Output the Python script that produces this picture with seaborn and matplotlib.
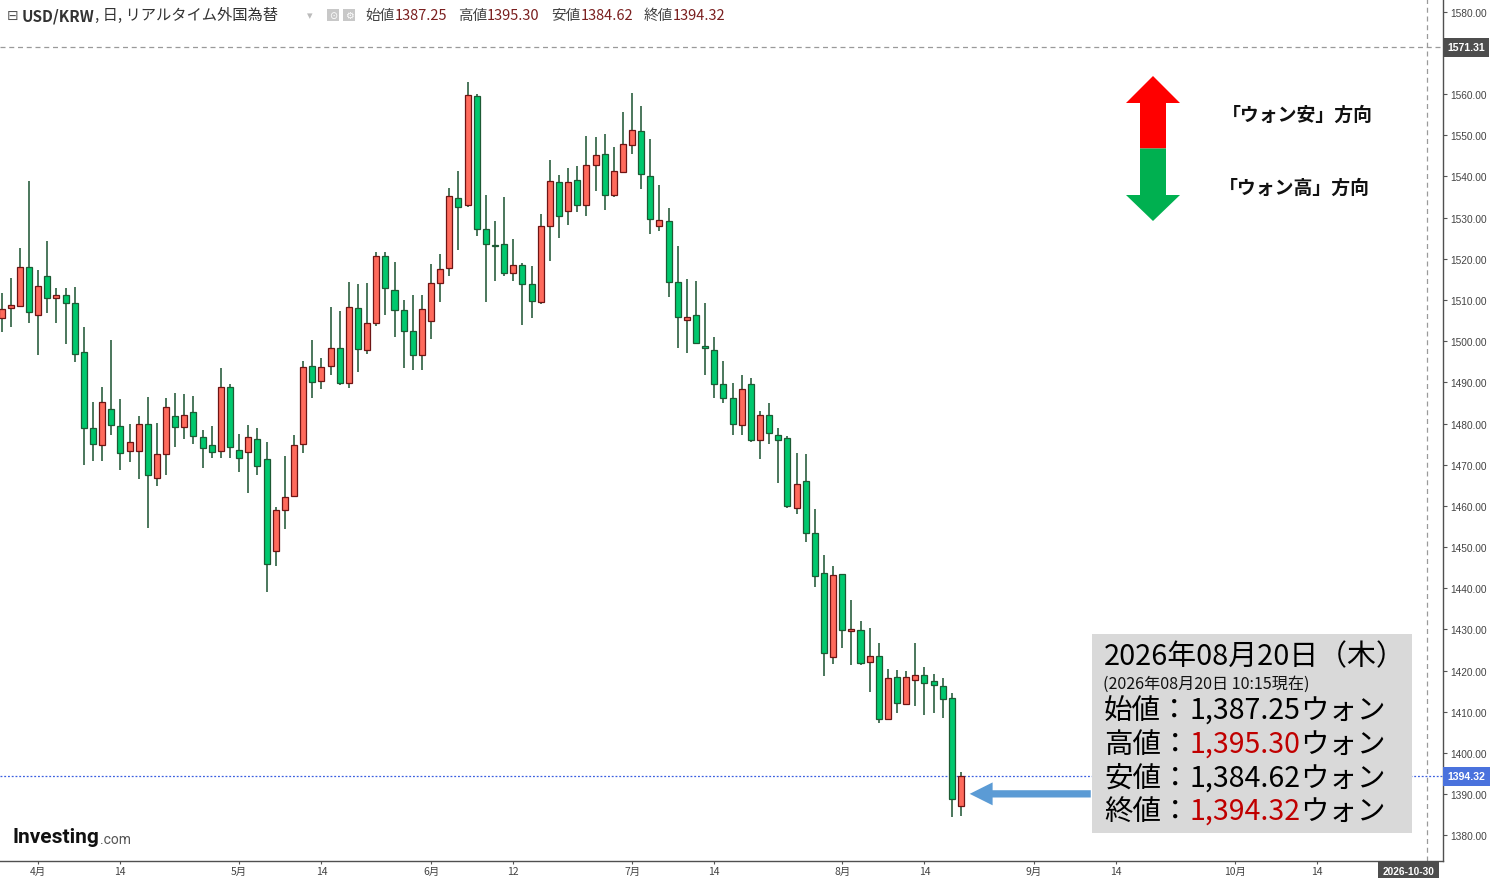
import numpy as np
import pandas as pd
import matplotlib
matplotlib.use('Agg')
import matplotlib.pyplot as plt
from matplotlib.patches import Polygon, Rectangle
import seaborn as sns

# USD/KRW daily candles, 2026-03-26 .. 2026-08-20 (weekdays)
opens = [1505.6, 1508.0, 1508.5, 1517.9, 1506.4, 1515.7, 1510.4, 1511.1, 1509.2, 1497.3,
         1478.9, 1474.7, 1483.5, 1479.3, 1473.3, 1473.3, 1479.8, 1466.7, 1472.5, 1481.8,
         1479.1, 1482.7, 1476.7, 1474.7, 1473.3, 1488.8, 1473.5, 1473.0, 1476.2, 1471.3,
         1449.0, 1459.0, 1462.3, 1475.0, 1493.9, 1490.3, 1493.9, 1498.3, 1489.8, 1508.0,
         1497.8, 1504.3, 1520.6, 1512.3, 1507.5, 1502.4, 1496.6, 1504.8, 1514.0, 1517.7,
         1534.7, 1533.0, 1559.4, 1527.2, 1523.3, 1523.5, 1516.5, 1518.4, 1513.8, 1509.4,
         1527.9, 1538.6, 1531.5, 1539.0, 1533.0, 1542.7, 1545.4, 1535.4, 1541.0, 1547.5,
         1550.9, 1540.0, 1527.9, 1529.1, 1514.3, 1505.1, 1506.3, 1498.8, 1497.8, 1489.5,
         1486.1, 1479.7, 1489.5, 1475.9, 1482.0, 1477.3, 1476.4, 1459.4, 1466.0, 1453.4,
         1443.7, 1423.3, 1443.4, 1429.6, 1429.8, 1422.1, 1423.5, 1408.2, 1418.4, 1411.9,
         1417.7, 1418.9, 1417.5, 1416.2, 1413.3, 1387.25]
highs = [1511.7, 1515.3, 1522.6, 1538.9, 1517.3, 1524.3, 1512.9, 1512.9, 1513.2, 1503.5,
         1485.3, 1488.9, 1500.3, 1486.0, 1479.8, 1481.8, 1486.5, 1480.2, 1486.2, 1487.4,
         1487.2, 1486.7, 1478.5, 1479.4, 1493.5, 1489.6, 1477.4, 1479.6, 1478.9, 1475.5,
         1459.7, 1472.1, 1477.2, 1495.1, 1500.2, 1495.9, 1508.2, 1507.3, 1514.3, 1513.8,
         1514.1, 1521.6, 1521.6, 1519.2, 1510.0, 1511.2, 1511.2, 1518.7, 1521.1, 1537.1,
         1541.2, 1562.8, 1559.9, 1535.4, 1529.1, 1534.9, 1524.7, 1518.9, 1518.2, 1530.8,
         1544.0, 1540.3, 1542.0, 1542.5, 1549.8, 1549.6, 1550.3, 1547.1, 1555.6, 1560.2,
         1557.1, 1549.1, 1537.9, 1532.3, 1523.0, 1515.0, 1514.5, 1509.3, 1500.9, 1495.1,
         1489.8, 1491.7, 1491.0, 1483.1, 1485.0, 1478.9, 1476.9, 1472.9, 1472.6, 1459.3,
         1448.1, 1445.4, 1443.4, 1437.2, 1432.1, 1430.4, 1426.8, 1420.4, 1420.1, 1419.9,
         1426.7, 1420.8, 1419.2, 1418.2, 1414.5, 1395.30]
lows = [1502.1, 1503.5, 1508.3, 1504.3, 1496.7, 1506.9, 1504.3, 1499.2, 1495.0, 1470.0,
        1471.0, 1471.0, 1477.1, 1468.8, 1470.6, 1466.6, 1454.7, 1464.9, 1467.6, 1474.4,
        1476.3, 1475.1, 1469.3, 1471.7, 1471.7, 1471.7, 1468.3, 1463.2, 1467.4, 1439.2,
        1445.3, 1454.3, 1462.1, 1472.8, 1486.3, 1488.5, 1491.9, 1489.3, 1488.6, 1492.4,
        1497.0, 1503.6, 1506.4, 1500.9, 1493.6, 1493.1, 1492.9, 1500.6, 1509.4, 1515.7,
        1522.2, 1532.5, 1525.6, 1509.6, 1514.5, 1515.7, 1514.7, 1504.0, 1505.7, 1508.9,
        1519.5, 1525.1, 1528.3, 1531.4, 1530.5, 1536.5, 1531.9, 1535.1, 1540.8, 1545.5,
        1537.0, 1526.1, 1526.8, 1510.6, 1498.4, 1497.2, 1499.2, 1491.9, 1486.3, 1485.1,
        1477.3, 1477.1, 1475.6, 1471.5, 1475.1, 1465.6, 1459.4, 1458.1, 1451.3, 1440.2,
        1418.8, 1421.7, 1425.6, 1421.3, 1421.3, 1414.9, 1407.3, 1408.0, 1409.7, 1411.6,
        1411.4, 1409.2, 1409.7, 1408.5, 1384.5, 1384.62]
closes = [1507.7, 1508.7, 1517.9, 1507.0, 1513.3, 1510.4, 1511.1, 1509.2, 1496.8, 1478.9,
          1475.0, 1485.2, 1479.6, 1472.8, 1475.5, 1479.8, 1467.4, 1472.5, 1484.0, 1479.1,
          1482.0, 1476.9, 1474.0, 1473.0, 1488.8, 1474.2, 1471.6, 1476.7, 1469.6, 1445.9,
          1459.0, 1462.1, 1474.7, 1493.7, 1490.0, 1493.7, 1498.3, 1489.8, 1508.2, 1498.0,
          1504.3, 1520.6, 1512.8, 1507.5, 1502.4, 1496.6, 1507.7, 1514.0, 1517.4, 1535.2,
          1532.5, 1559.7, 1527.2, 1523.5, 1523.2, 1516.5, 1518.4, 1513.8, 1509.7, 1527.9,
          1538.8, 1530.5, 1538.6, 1533.0, 1542.7, 1545.1, 1535.4, 1541.2, 1547.8, 1551.2,
          1540.5, 1529.6, 1529.3, 1514.3, 1505.8, 1505.8, 1499.5, 1498.3, 1489.5, 1486.1,
          1480.0, 1488.3, 1476.1, 1482.0, 1477.6, 1475.9, 1459.9, 1465.3, 1453.4, 1442.9,
          1424.2, 1443.2, 1429.8, 1430.1, 1421.8, 1423.5, 1408.2, 1418.2, 1412.1, 1418.4,
          1418.9, 1417.0, 1416.5, 1413.1, 1388.8, 1394.32]

tick_dates = ['2026-04-01', '2026-04-14', '2026-05-01', '2026-05-14', '2026-06-01', '2026-06-12',
              '2026-07-01', '2026-07-14', '2026-08-03', '2026-08-14', '2026-09-01', '2026-09-14',
              '2026-10-01', '2026-10-14']
tick_labels = ['4月', '14', '5月', '14', '6月', '12', '7月', '14', '8月', '14', '9月', '14', '10月', '14']
# 1570 sits under the 1571.31 marker, so it is left out
price_ticks = [1380, 1390, 1400, 1410, 1420, 1430, 1440, 1450, 1460, 1470, 1480,
               1490, 1500, 1510, 1520, 1530, 1540, 1550, 1560, 1580]

last_date = '2026-08-20'
last_close = 1394.32
max_line = 1571.31
end_date = '2026-10-30'

# colours
up_fill, up_edge = '#ff6a5c', '#6e1414'
dn_fill, dn_edge = '#00c86e', '#1d5a34'
wick_col = '#1a5230'

sns.set_theme(style='white')
plt.rcParams['font.family'] = ['Noto Sans CJK JP', 'DejaVu Sans']

W, H = 1490, 879
fig = plt.figure(figsize=(W / 100, H / 100), dpi=100)
ax = fig.add_axes([0, 17 / H, 1443 / W, 862 / H])

o = np.array(opens); h = np.array(highs); l = np.array(lows); c = np.array(closes)
axis_days = pd.bdate_range('2026-03-26', end_date)
x = np.arange(len(o))
up = c >= o
body_lo = np.minimum(o, c)
body_h = np.maximum(np.abs(c - o), 0.12)

ax.vlines(x, l, h, color=wick_col, lw=1.1, zorder=2)
ax.bar(x[up], body_h[up], bottom=body_lo[up], width=0.66, color=up_fill,
       edgecolor=up_edge, linewidth=0.9, zorder=3)
ax.bar(x[~up], body_h[~up], bottom=body_lo[~up], width=0.66, color=dn_fill,
       edgecolor=dn_edge, linewidth=0.9, zorder=3)

end_pos = axis_days.get_loc(pd.Timestamp(end_date))
ax.axhline(max_line, color='#9a9a9a', ls=(0, (4, 3)), lw=0.9, zorder=1)
ax.axhline(last_close, color='#3a5fe0', ls=(0, (1.5, 1.5)), lw=0.9, zorder=1)
ax.axvline(end_pos, color='#9a9a9a', ls=(0, (4, 3)), lw=0.9, zorder=1)

ax.set_xlim(-0.175, 157.75)
ax.set_ylim(1373.8, 1583.06)

tick_pos = axis_days.get_indexer(pd.to_datetime(tick_dates))
ax.set_xticks(tick_pos, tick_labels, fontsize=7.5, color='#444444')
ax.yaxis.tick_right()
ax.set_yticks(price_ticks, [f'{v:.2f}' for v in price_ticks], fontsize=7.3,
              color='#444444', fontfamily='Liberation Sans')
ax.tick_params(axis='x', length=2.2, width=0.8, color='#555555', pad=1.5, bottom=True)
ax.tick_params(axis='y', length=3, width=0.8, color='#555555', pad=2, right=True, left=False)
for s in ['left', 'top']:
    ax.spines[s].set_visible(False)
for s in ['right', 'bottom']:
    ax.spines[s].set_color('#505050')
    ax.spines[s].set_linewidth(1.0)
ax.grid(False)

ytr = ax.get_yaxis_transform()
ax.text(1.003, max_line, f'{max_line:.2f}', transform=ytr, ha='left', va='center', fontsize=7.6,
        color='white', fontweight='bold', fontfamily='Liberation Sans', clip_on=False, zorder=6,
        bbox=dict(boxstyle='square,pad=0.42', fc='#4d4d4d', ec='none'))
ax.text(1.003, last_close, f'{last_close:.2f}', transform=ytr, ha='left', va='center', fontsize=7.6,
        color='white', fontweight='bold', fontfamily='Liberation Sans', clip_on=False, zorder=6,
        bbox=dict(boxstyle='square,pad=0.42', fc='#4a72dd', ec='none'))
xtr = ax.get_xaxis_transform()
ax.text(end_pos - 2.0, -0.0116, end_date, transform=xtr, ha='center', va='center', fontsize=7.3,
        color='white', fontweight='bold', fontfamily='Liberation Sans', clip_on=False, zorder=6,
        bbox=dict(boxstyle='square,pad=0.45', fc='#4d4d4d', ec='none'))

# blue arrow pointing at the last candle
last_pos = axis_days.get_loc(pd.Timestamp(last_date))
ax.annotate('', xy=(last_pos + 0.95, 1390.1), xytext=(last_pos + 14.2, 1390.1),
            arrowprops=dict(arrowstyle='simple,head_length=1.1,head_width=1.1,tail_width=0.35',
                            fc='#5b9bd5', ec='none', mutation_scale=15, shrinkA=0, shrinkB=0),
            zorder=4)

# overlay in pixel coordinates for annotations
ov = fig.add_axes([0, 0, 1, 1], zorder=10)
ov.set_xlim(0, W)
ov.set_ylim(H, 0)
ov.axis('off')
ov.patch.set_visible(False)

# header line
ov.text(7, 16, '⊟', fontsize=10, color='#555555', va='center', ha='left', family='DejaVu Sans')
t = ov.text(22, 16, 'USD/KRW', fontsize=11, color='#333333', va='center', ha='left', fontweight='bold')
ov.annotate(', 日, リアルタイム外国為替', xy=(1, 0), xycoords=t, va='bottom', ha='left',
            fontsize=11, color='#333333')
ov.text(310, 16, '▾', fontsize=8, color='#bbbbbb', va='center', ha='center', family='DejaVu Sans')
for px, sym in [(333, '⊙'), (349, '⚙')]:
    ov.add_patch(Rectangle((px - 6, 10), 12, 12, fc='#c8c8c8', ec='none'))
    ov.text(px, 16, sym, fontsize=7, color='white', va='center', ha='center', family='DejaVu Sans')
for px, lab, val in [(365, '始値', opens[-1]), (458, '高値', highs[-1]),
                     (551, '安値', lows[-1]), (644, '終値', closes[-1])]:
    t = ov.text(px, 16, lab, fontsize=10.5, color='#444444', va='center', ha='left')
    ov.annotate(f'{val:.2f}', xy=(1, 0), xycoords=t, va='bottom', ha='left',
                fontsize=10.5, color='#7a1f1f')

# up / down arrows legend
ov.add_patch(Polygon([(1153, 77), (1180, 104), (1166, 104), (1166, 149.5), (1140, 149.5),
                      (1140, 104), (1126, 104)], closed=True, fc='#ff0000', ec='none'))
ov.add_patch(Polygon([(1140, 149.5), (1166, 149.5), (1166, 196), (1180, 196), (1153, 222),
                      (1126, 196), (1140, 196)], closed=True, fc='#00b050', ec='none'))
ov.text(1222, 115, '「ウォン安」方向', fontsize=13.6, fontweight='bold', color='#111111',
        va='center', ha='left')
ov.text(1219, 188, '「ウォン高」方向', fontsize=13.6, fontweight='bold', color='#111111',
        va='center', ha='left')

# info box
ov.add_patch(Rectangle((1092, 635), 320, 199, fc='#d9d9d9', ec='none'))
ov.text(1104, 657, '2026年08月20日（木）', fontsize=20.8, color='#000000', va='center', ha='left')
ov.text(1103, 684, '(2026年08月20日 10:15現在)', fontsize=11.6, color='#111111', va='center', ha='left')
rows = [('始値：', f'{opens[-1]:,.2f}', '#000000', 711),
        ('高値：', f'{highs[-1]:,.2f}', '#c00000', 745),
        ('安値：', f'{lows[-1]:,.2f}', '#000000', 779),
        ('終値：', f'{closes[-1]:,.2f}', '#c00000', 812)]
for lab, val, col, py in rows:
    t1 = ov.text(1104, py, lab, fontsize=20.5, color='#000000', va='center', ha='left')
    t2 = ov.annotate(val, xy=(1, 0), xycoords=t1, va='bottom', ha='left', fontsize=20.5, color=col)
    ov.annotate('ウォン', xy=(1, 0), xycoords=t2, va='bottom', ha='left', fontsize=20.5, color='#000000')

# logo
t = ov.text(13, 838, 'Investing', fontsize=15, fontweight='bold', color='#111111',
            va='center', ha='left', family='Roboto')
ov.annotate('.com', xy=(1, 0), xycoords=t, va='bottom', ha='left', fontsize=10,
            color='#555555', family='Roboto')

fig.savefig('out.png', dpi=100)
